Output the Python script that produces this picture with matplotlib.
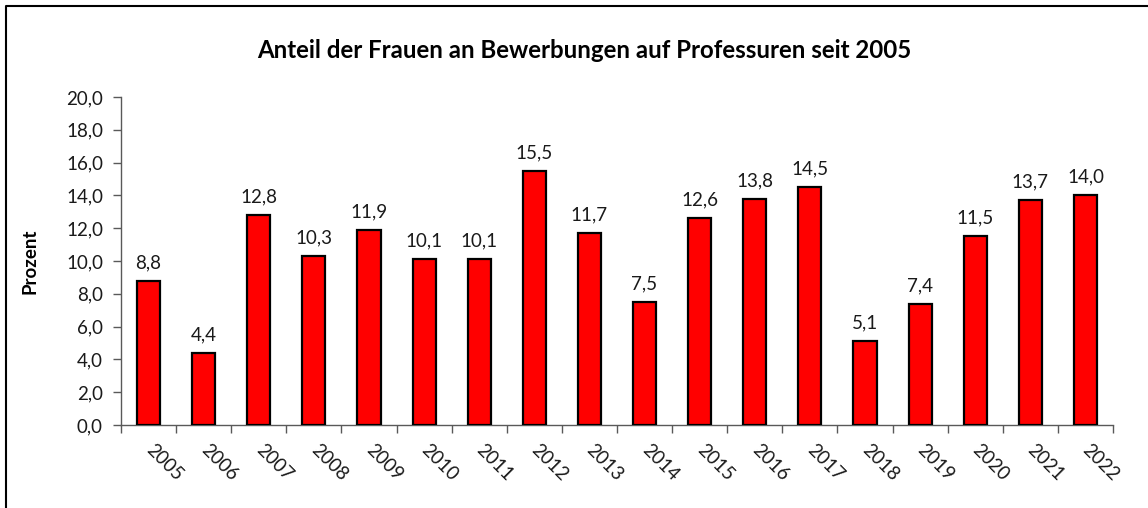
import matplotlib
matplotlib.use("Agg")
from matplotlib import pyplot as plt
from matplotlib.lines import Line2D

years = [str(y) for y in range(2005, 2023)]
anteil = [8.8, 4.4, 12.8, 10.3, 11.9, 10.1, 10.1, 15.5, 11.7, 7.5,
          12.6, 13.8, 14.5, 5.1, 7.4, 11.5, 13.7, 14.0]
yticks = [0, 2, 4, 6, 8, 10, 12, 14, 16, 18, 20]

plt.rcParams["font.family"] = ["Lato", "DejaVu Sans"]

fig = plt.figure(figsize=(11.48, 5.08), dpi=100)
ax = fig.add_axes([121 / 1148, 83 / 508, (1113 - 121) / 1148, (425 - 97) / 508])

x = list(range(len(years)))
ax.bar(x, anteil, width=0.42, color="#ff0000", edgecolor="black", linewidth=1.6, zorder=3)

for xi, v in zip(x, anteil):
    ax.annotate(f"{v:.1f}".replace(".", ","), (xi, v), xytext=(0, 7), textcoords="offset points",
                ha="center", va="bottom", fontsize=13.5, color="#1a1a1a")

ax.set_xlim(-0.5, len(years) - 0.5)
ax.set_ylim(0, 20)
ax.set_yticks(yticks)
ax.set_yticklabels([f"{t:.1f}".replace(".", ",") for t in yticks], fontsize=13.5, color="#1a1a1a")
ax.set_xticks(x)
ax.set_xticklabels(years, rotation=-45, ha="left", va="center", rotation_mode="anchor",
                   fontsize=13.5, color="#1a1a1a")
ax.tick_params(axis="x", length=0, pad=16)
ax.set_xticks([i - 0.5 for i in range(len(years) + 1)], minor=True)
ax.tick_params(axis="x", which="minor", length=6, width=1, color="#595959", direction="out")
ax.tick_params(axis="y", length=6, width=1, color="#595959", pad=7)

for s in ["top", "right"]:
    ax.spines[s].set_visible(False)
for s in ["left", "bottom"]:
    ax.spines[s].set_color("#595959")
    ax.spines[s].set_linewidth(1)

ax.set_ylabel("Prozent", fontsize=13.5, fontweight="bold", labelpad=20)
fig.text(584 / 1148, 1 - 50 / 508, "Anteil der Frauen an Bewerbungen auf Professuren seit 2005",
         ha="center", va="center", fontsize=17.3, fontweight="bold", color="black")

# outer frame (top and left edges only)
fig.add_artist(Line2D([6 / 1148, 6 / 1148, 1.0], [0.0, 1 - 6 / 508, 1 - 6 / 508],
                      transform=fig.transFigure, color="black", linewidth=1.5))

fig.savefig("out.png", dpi=100)
